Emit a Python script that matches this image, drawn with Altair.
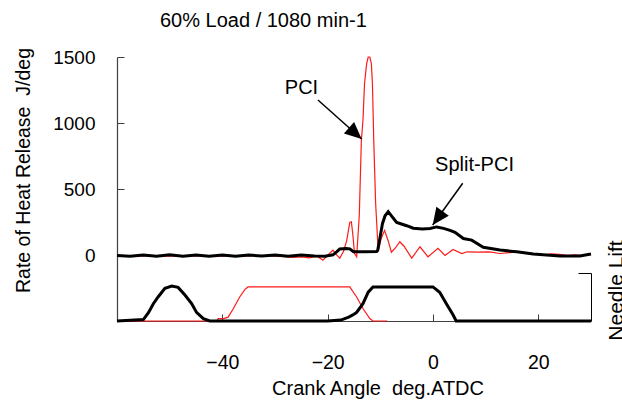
import math
import altair as alt
import pandas as pd

# ---------------- data ----------------
X_TICKS = [-40, -20, 0, 20]
Y_TICKS = [0, 500, 1000, 1500]

# Rate of heat release, Split-PCI (black, thick)
SPLIT_ROHR_DEG = [-60, -57.5, -55, -52.5, -50, -47.5, -45, -42.5, -40, -37.5, -35, -32.5,
                  -30, -27.5, -25, -22.5, -20.5, -19.0, -18.3, -17.7, -16.5, -15.8, -15.1,
                  -12.9, -10.7, -10.5, -10.0, -9.6, -9.1, -8.5, -7.7, -6.9, -6.27, -5.0,
                  -3.74, -2.0, -0.57, 0.7, 2.0, 3.23, 4.18, 5.76, 7.35, 9.55, 12.72, 15.9,
                  19.04, 24.1, 27.9, 30.0]
SPLIT_ROHR = [0, -6, 4, -5, 5, -5, 4, -6, 3, -5, 4, -4,
              3, -5, 4, -3, -5, 5, 28, 50, 53, 50, 29,
              29, 30, 40, 150, 240, 300, 331, 290, 250, 242, 225,
              206, 200, 204, 216, 205, 190, 175, 128, 116, 62, 41, 28,
              11, -4, -4, 11]

# Rate of heat release, PCI (red, thin)
PCI_ROHR_DEG = [-60, -55, -50, -45, -40, -35, -30, -28, -26.5, -25, -23.5, -22, -20.9,
                -19.8, -19.0, -18.3, -17.7, -17.0, -16.4, -15.8, -15.5, -15.2, -14.9,
                -14.5, -14.0, -13.6, -13.3, -13.0, -12.6, -12.3, -12.0, -11.7, -11.5,
                -11.25, -10.9, -10.4, -9.9, -9.2, -8.5, -7.9, -7.1, -6.3, -5.5, -4.04,
                -2.47, -0.95, 0.95, 2.28, 3.8, 5.45, 6.5, 8.5, 10.7, 12.7, 14.5, 16.4,
                18.9, 21.2, 22.5, 24.0, 25.5, 27.0, 28.3, 29.4]
PCI_ROHR = [-3, -3, -4, -3, -4, -3, -5, -8, -15, -10, -18, -5, -35,
            10, 40, 5, -20, 30, 110, 250, 255, 150, 15,
            -10, 300, 870, 1020, 1300, 1450, 1500, 1500, 1450, 1300,
            870, 400, 30, 120, 190, 110, 25, 60, 104, 70, -20,
            66, -10, 54, 0, 45, 15, 28, 25, 28, 15, 22, 28,
            10, 5, 12, 8, 0, 5, 0, 5]

# Needle lift (relative units, 0 .. 1 = bracket on the right)
SPLIT_LIFT_DEG = [-60, -55.0, -54.0, -53.1, -52.2, -50.9, -49.6, -48.4, -47.1, -45.8,
                  -44.9, -43.6, -42.4, -30, -20, -17.5, -16.0, -15.0, -14.5, -13.3,
                  -12.3, -11.4, 0.0, 1.27, 2.54, 3.8, 4.4, 30]
SPLIT_LIFT = [0, 0.03, 0.18, 0.36, 0.5, 0.68, 0.73, 0.70, 0.54, 0.36,
              0.18, 0.05, 0, 0, 0, 0.02, 0.08, 0.14, 0.18, 0.36,
              0.6, 0.71, 0.71, 0.6, 0.36, 0.13, 0, 0]

PCI_LIFT_DEG = [-60, -41.0, -40.8, -39.8, -38.9, -37.9, -36.7, -35.7, -35.1, -15.8,
                -14.5, -13.3, -12.0, -11.4, -8.7]
PCI_LIFT = [0, 0, 0.05, 0.05, 0.08, 0.26, 0.5, 0.66, 0.71, 0.71,
            0.5, 0.26, 0.05, 0, 0]

# annotations (data coordinates: deg, J/deg)
LABEL_TEXT = ["PCI", "Split-PCI"]
LABEL_DEG = [-24.97, 7.88]
LABEL_VAL = [1266, 685]
ARROW_FROM_DEG = [-21.84, 5.64]
ARROW_FROM_VAL = [1175, 546]
ARROW_TO_DEG = [-13.54, -0.06]
ARROW_TO_VAL = [880, 230]

TITLE = "60% Load / 1080 min-1"
X_TITLE = "Crank Angle\u00a0 deg.ATDC"
Y_TITLE = "Rate of Heat Release\u00a0 J/deg"
LIFT_TITLE = "Needle Lift"

# ---------------- layout / style ----------------
W, H = 474, 264
X_DOMAIN = [-60, 30]
Y_DOMAIN = [-495, 1500]
LIFT_DOMAIN = [0, 1]
LIFT_PX = 48

SANS = "Liberation Sans"
AXIS_COLOR = "#404040"
RED = "#ff1a1a"


def frame(degs, vals):
    return pd.DataFrame({"deg": degs, "val": vals, "i": list(range(len(degs)))})


xs = alt.Scale(domain=X_DOMAIN, nice=False, zero=False)
ys = alt.Scale(domain=Y_DOMAIN, nice=False, zero=False)
ls = alt.Scale(domain=LIFT_DOMAIN, range=[H, H - LIFT_PX], nice=False, zero=False)

# main axes (labels, domain lines, titles)
x_main_axis = alt.Axis(orient="bottom", values=X_TICKS, tickSize=0, grid=False,
                       labelFont=SANS, labelFontSize=19.5, labelColor="black",
                       labelPadding=32, labelFlush=False, labelOverlap=False,
                       domainColor=AXIS_COLOR, domainWidth=1.2,
                       title=X_TITLE, titleFont=SANS,
                       titleFontSize=20, titleFontWeight="normal", titleColor="black",
                       titleX=260.5, titleY=73, titleAlign="center",
                       titleBaseline="alphabetic")
y_main_axis = alt.Axis(orient="left", values=Y_TICKS, tickSize=0, grid=False, format="d",
                       labelFont=SANS, labelFontSize=19, labelColor="black",
                       labelPadding=22, labelFlush=False, labelOverlap=False,
                       labelBaseline="middle",
                       domainColor=AXIS_COLOR, domainWidth=1.2,
                       title=Y_TITLE, titleFont=SANS,
                       titleFontSize=19.5, titleFontWeight="normal", titleColor="black",
                       titleAngle=270, titleX=-88, titleY=113, titleAlign="center",
                       titleBaseline="alphabetic")
# inward ticks
y_tick_axis = alt.Axis(orient="right", offset=-W, values=Y_TICKS, tickSize=7,
                       tickColor=AXIS_COLOR, labels=False, domain=False, grid=False,
                       title=None)
x_tick_axis = alt.Axis(orient="top", offset=-H, values=X_TICKS, tickSize=7,
                       tickColor=AXIS_COLOR, labels=False, domain=False, grid=False,
                       title=None)
# needle lift bracket and title
lift_bracket_axis = alt.Axis(orient="left", offset=-W, values=[1], tickSize=13,
                             tickColor="black", domainColor="black", labels=False,
                             grid=False, title=None)
lift_title_axis = alt.Axis(orient="right", domain=False, ticks=False, labels=False,
                           grid=False, title=LIFT_TITLE, titleFont=SANS,
                           titleFontSize=21, titleFontWeight="normal",
                           titleColor="black", titleAngle=270, titleX=31,
                           titleY=233, titleAlign="center", titleBaseline="alphabetic")

red_lift = alt.Chart(frame(PCI_LIFT_DEG, PCI_LIFT)).mark_line(
    color=RED, strokeWidth=1.2).encode(
    x=alt.X("deg:Q", scale=xs, axis=None),
    y=alt.Y("val:Q", scale=ls, axis=lift_bracket_axis),
    order="i:Q")

black_lift = alt.Chart(frame(SPLIT_LIFT_DEG, SPLIT_LIFT)).mark_line(
    color="black", strokeWidth=3).encode(
    x=alt.X("deg:Q", scale=xs, axis=None),
    y=alt.Y("val:Q", scale=ls, axis=lift_title_axis),
    order="i:Q")

red_rohr = alt.Chart(frame(PCI_ROHR_DEG, PCI_ROHR)).mark_line(
    color=RED, strokeWidth=1.2).encode(
    x=alt.X("deg:Q", scale=xs, axis=x_main_axis),
    y=alt.Y("val:Q", scale=ys, axis=y_main_axis),
    order="i:Q")

black_rohr = alt.Chart(frame(SPLIT_ROHR_DEG, SPLIT_ROHR)).mark_line(
    color="black", strokeWidth=3).encode(
    x=alt.X("deg:Q", scale=xs, axis=None),
    y=alt.Y("val:Q", scale=ys, axis=None),
    order="i:Q")

# arrows
px_per_deg = W / (X_DOMAIN[1] - X_DOMAIN[0])
px_per_val = H / (Y_DOMAIN[1] - Y_DOMAIN[0])
angles = []
for x0, y0, x1, y1 in zip(ARROW_FROM_DEG, ARROW_FROM_VAL, ARROW_TO_DEG, ARROW_TO_VAL):
    dx = (x1 - x0) * px_per_deg
    dy = -(y1 - y0) * px_per_val
    angles.append(math.degrees(math.atan2(dx, -dy)) % 360)

arrows_df = pd.DataFrame({"x0": ARROW_FROM_DEG, "y0": ARROW_FROM_VAL,
                          "x1": ARROW_TO_DEG, "y1": ARROW_TO_VAL, "angle": angles})

arrow_lines = alt.Chart(arrows_df).mark_rule(color="black", strokeWidth=1.5).encode(
    x=alt.X("x0:Q", scale=xs, axis=x_tick_axis),
    y=alt.Y("y0:Q", scale=ys, axis=y_tick_axis),
    x2="x1:Q", y2="y1:Q")

arrow_heads = alt.Chart(arrows_df).mark_point(
    shape="M0,0L-0.45,1L0.45,1Z", filled=True, color="black", opacity=1,
    size=1156, strokeWidth=0).encode(
    x=alt.X("x1:Q", scale=xs, axis=None),
    y=alt.Y("y1:Q", scale=ys, axis=None),
    angle=alt.Angle("angle:Q", scale=None))

labels = alt.Chart(pd.DataFrame({"t": LABEL_TEXT, "x": LABEL_DEG, "y": LABEL_VAL})).mark_text(
    font=SANS, fontSize=20, color="black", align="center", baseline="middle").encode(
    x=alt.X("x:Q", scale=xs, axis=None),
    y=alt.Y("y:Q", scale=ys, axis=None),
    text="t:N")

chart = alt.layer(
    red_lift, black_lift, red_rohr, black_rohr, arrow_lines, arrow_heads, labels
).resolve_scale(y="independent").resolve_axis(
    x="independent", y="independent"
).properties(
    width=W, height=H,
    autosize=alt.AutoSizeParams(type="none"),
    padding={"left": 117, "top": 57, "right": 31, "bottom": 82},
    background="white",
    title=alt.TitleParams(TITLE, anchor="start", frame="group", dx=43, offset=1,
                          baseline="alphabetic", font=SANS, fontSize=20,
                          fontWeight="normal", color="black"),
).configure_view(stroke=None)

chart.save("out.html", embed_options={"renderer": "svg", "actions": False})
